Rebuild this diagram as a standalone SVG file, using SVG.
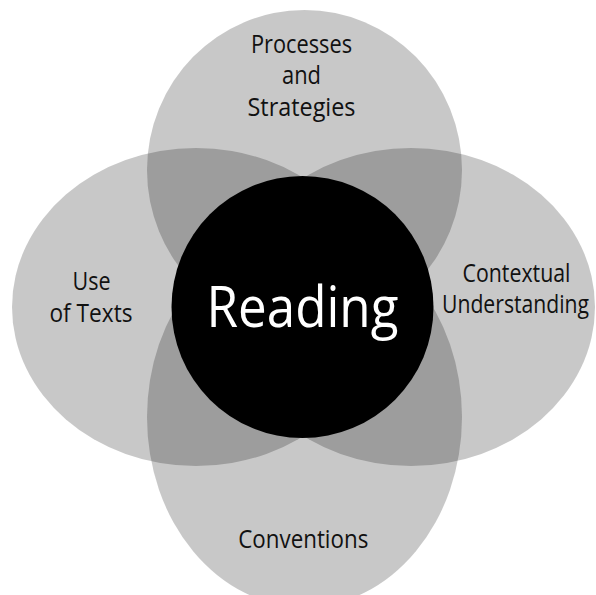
<svg xmlns="http://www.w3.org/2000/svg" width="596" height="595" viewBox="0 0 596 595">
  <style>
    .petal { fill: #000000; fill-opacity: 0.215; }
    .lbl { font-family: "Open Sans", "Liberation Sans", sans-serif; font-size: 25px; fill: #111111; text-anchor: middle; }
    .core { font-family: "Open Sans", "Liberation Sans", sans-serif; font-size: 56px; fill: #ffffff; text-anchor: middle; }
  </style>
  <rect width="596" height="595" fill="#ffffff"/>
  <g id="processes">
    <ellipse class="petal" cx="304.5" cy="170" rx="157.5" ry="160"/>
    <text class="lbl" x="301.5" y="53" textLength="101" lengthAdjust="spacingAndGlyphs">Processes</text>
    <text class="lbl" x="301.5" y="84" textLength="39" lengthAdjust="spacingAndGlyphs">and</text>
    <text class="lbl" x="301.5" y="115.5" textLength="108" lengthAdjust="spacingAndGlyphs">Strategies</text>
  </g>
  <g id="use-of-texts">
    <ellipse class="petal" cx="196" cy="307" rx="184" ry="159"/>
    <text class="lbl" x="91.5" y="289.5" textLength="38" lengthAdjust="spacingAndGlyphs">Use</text>
    <text class="lbl" x="91" y="321.7" textLength="83" lengthAdjust="spacingAndGlyphs">of Texts</text>
  </g>
  <g id="contextual-understanding">
    <ellipse class="petal" cx="411" cy="307" rx="184" ry="159"/>
    <text class="lbl" x="516.5" y="281.7" textLength="108" lengthAdjust="spacingAndGlyphs">Contextual</text>
    <text class="lbl" x="515.5" y="313.3" textLength="147" lengthAdjust="spacingAndGlyphs">Understanding</text>
  </g>
  <g id="conventions">
    <ellipse class="petal" cx="304.5" cy="417" rx="157.5" ry="190"/>
    <text class="lbl" x="303.3" y="547.7" textLength="130" lengthAdjust="spacingAndGlyphs">Conventions</text>
  </g>
  <g id="reading">
    <circle cx="302.5" cy="307" r="131" fill="#000000"/>
    <text class="core" x="302.5" y="326.7" textLength="192" lengthAdjust="spacingAndGlyphs">Reading</text>
  </g>
  <g id="connectors"/>
</svg>
